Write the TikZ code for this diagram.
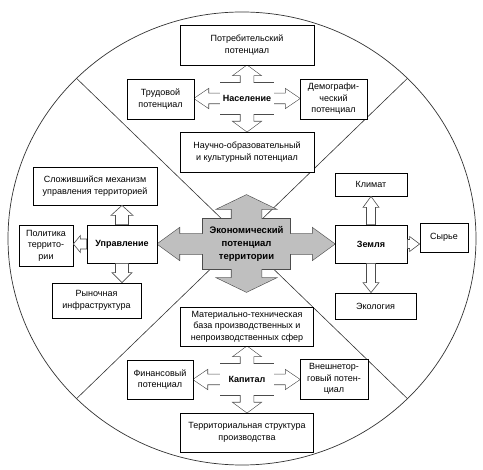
\documentclass[tikz,border=0pt]{standalone}
\usepackage{fontspec}
\setmainfont{Liberation Sans}
\usepackage{tikz}
\usetikzlibrary{calc, backgrounds}

% block arrow: style, start, tip, half shaft, half head, head length
\newcommand{\blockarr}[6]{%
  \coordinate (hb) at ($(#3)!#6!(#2)$);
  \path[#1] ($(#2)!#4!90:(#3)$) -- ($(hb)!#4!90:(#3)$) -- ($(hb)!#5!90:(#3)$) -- (#3)
    -- ($(hb)!#5!-90:(#3)$) -- ($(hb)!#4!-90:(#3)$) -- ($(#2)!#4!-90:(#3)$) -- cycle;
}
% cross: style, centre node, tips N S W E
\newcommand{\crossshape}[6]{%
  \path[#1] (#2.north west) rectangle (#2.south east);
  \blockarr{#1}{#2.north}{#3}{\ArrShV pt}{\ArrHdV pt}{\ArrLnV pt}
  \blockarr{#1}{#2.south}{#4}{\ArrShV pt}{\ArrHdV pt}{\ArrLnV pt}
  \blockarr{#1}{#2.west}{#5}{\ArrShH pt}{\ArrHdH pt}{\ArrLnH pt}
  \blockarr{#1}{#2.east}{#6}{\ArrShH pt}{\ArrHdH pt}{\ArrLnH pt}
}

\begin{document}
\begin{tikzpicture}[x=1pt, y=-1pt,
  box/.style={draw, fill=white, line width=0.8pt, align=center, inner sep=1pt,
    font=\fontsize{9}{11.5}\selectfont},
  hub/.style={align=center, inner sep=0pt, font=\fontsize{9}{11.5}\selectfont\bfseries},
  hollow/.style={draw=black!70, fill=white, line width=0.6pt},
  rim/.style={draw=black!70, line width=1.2pt}]
  \pgfmathsetmacro{\CircRX}{234}
  \pgfmathsetmacro{\CircRY}{226.5}

  \useasboundingbox (0,0) rectangle (483,470);

  % Население
  \node[box, minimum width=134, minimum height=40] (potreb) at (247,45) {Потребительский\\потенциал};
  \node[box, minimum width=67, minimum height=40] (trud) at (160.5,99) {Трудовой\\потенциал};
  \node[box, minimum width=67, minimum height=40] (demogr) at (333.5,99) {Демографи-\\ческий\\потенциал};
  \node[box, minimum width=134, minimum height=40] (nauch) at (247,152) {Научно-образовательный\\и культурный потенциал};
  \node[hub, minimum width=53, minimum height=31] (nasel) at (247,98.5) {Население};

  % Управление
  \node[box, minimum width=124, minimum height=38] (mech) at (95,186) {Сложившийся механизм\\управления территорией};
  \node[box, minimum width=54, minimum height=41] (polit) at (46,245.5) {Политика\\террито-\\рии};
  \node[box, minimum width=70, minimum height=38, font=\fontsize{9}{11.5}\selectfont\bfseries] (upr) at (122,244) {Управление};
  \node[box, minimum width=89, minimum height=35] (rynok) at (96.5,300.5) {Рыночная\\инфраструктура};

  % Земля
  \node[box, minimum width=72, minimum height=23] (klim) at (371,184.5) {Климат};
  \node[box, minimum width=72, minimum height=38, font=\fontsize{9}{11.5}\selectfont\bfseries] (zem) at (371,244) {Земля};
  \node[box, minimum width=48, minimum height=29] (syr) at (444,237.5) {Сырье};
  \node[box, minimum width=81, minimum height=26] (ekol) at (375.5,306) {Экология};

  % Капитал
  \node[box, minimum width=133, minimum height=39] (mat) at (247,326.5) {Материально-техническая\\база производственных и\\непроизводственных сфер};
  \node[box, minimum width=66, minimum height=39] (fin) at (160,379.5) {Финансовый\\потенциал};
  \node[box, minimum width=68, minimum height=40] (vnesh) at (334,379) {Внешнетор-\\говый потен-\\циал};
  \node[box, minimum width=133, minimum height=39] (terr) at (247,432.5) {Территориальная структура\\производства};
  \node[hub, minimum width=53, minimum height=31] (kap) at (247,379.5) {Капитал};

  % centre
  \node[hub, minimum width=87, minimum height=50, font=\fontsize{9.5}{13}\selectfont\bfseries] (econ) at (246.5,244) {Экономический\\потенциал\\территории};
  \coordinate (etop) at (246.5,195);
  \coordinate (ebot) at (246.5,292);

  \blockarr{hollow}{upr.north}{upr.north |- mech.south}{6.5pt}{11pt}{10pt}
  \blockarr{hollow}{upr.west}{upr.west -| polit.east}{5pt}{8.5pt}{7pt}
  \blockarr{hollow}{upr.south}{upr.south |- rynok.north}{6.5pt}{10pt}{10pt}
  \blockarr{hollow}{zem.north}{zem.north |- klim.south}{4.5pt}{8pt}{11pt}
  \blockarr{hollow}{zem.east}{zem.east -| syr.west}{4.5pt}{7.5pt}{10pt}
  \blockarr{hollow}{zem.south}{zem.south |- ekol.north}{4.5pt}{8pt}{10pt}

  \begin{pgfonlayer}{background}
    \draw[black!80, line width=0.7pt] (242,238.5) ellipse [x radius=\CircRX, y radius=\CircRY];
    \foreach \ang in {45,135,225,315}
      \draw[black!80, line width=0.6pt] (242,238.5) -- ({242+\CircRX*cos(\ang)}, {238.5+\CircRY*sin(\ang)});

    \pgfmathsetmacro{\ArrShV}{6.5}
    \pgfmathsetmacro{\ArrHdV}{13.5}
    \pgfmathsetmacro{\ArrLnV}{10}
    \pgfmathsetmacro{\ArrShH}{5}
    \pgfmathsetmacro{\ArrHdH}{9.5}
    \pgfmathsetmacro{\ArrLnH}{14}
    \crossshape{rim}{nasel}{nasel.north |- potreb.south}{nasel.south |- nauch.north}{nasel.west -| trud.east}{nasel.east -| demogr.west}
    \crossshape{fill=white}{nasel}{nasel.north |- potreb.south}{nasel.south |- nauch.north}{nasel.west -| trud.east}{nasel.east -| demogr.west}
    \crossshape{rim}{kap}{kap.north |- mat.south}{kap.south |- terr.north}{kap.west -| fin.east}{kap.east -| vnesh.west}
    \crossshape{fill=white}{kap}{kap.north |- mat.south}{kap.south |- terr.north}{kap.west -| fin.east}{kap.east -| vnesh.west}

    \pgfmathsetmacro{\ArrShV}{15}
    \pgfmathsetmacro{\ArrHdV}{29}
    \pgfmathsetmacro{\ArrLnV}{14}
    \pgfmathsetmacro{\ArrShH}{10}
    \pgfmathsetmacro{\ArrHdH}{16}
    \pgfmathsetmacro{\ArrLnH}{22}
    \crossshape{rim}{econ}{etop}{ebot}{econ.west -| upr.east}{econ.east -| zem.west}
    \crossshape{fill=black!25}{econ}{etop}{ebot}{econ.west -| upr.east}{econ.east -| zem.west}
  \end{pgfonlayer}
\end{tikzpicture}
\end{document}
